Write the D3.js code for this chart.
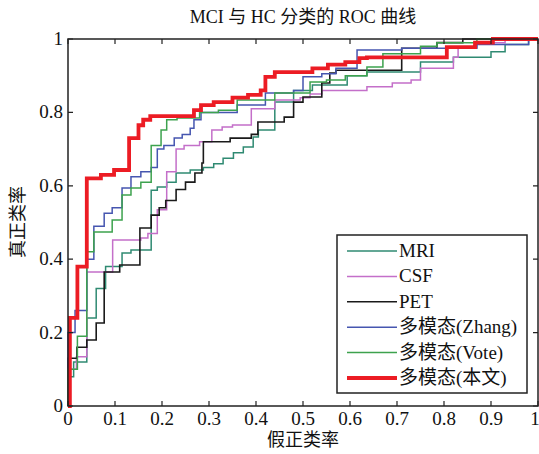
<!DOCTYPE html>
<html>
<head>
<meta charset="utf-8">
<script src="https://cdn.jsdelivr.net/npm/d3@7"></script>
</head>
<body style="margin:0; background:#fff">
<svg id="chart" width="539" height="454"></svg>
<script>
// ROC step curves, [fpr, tpr] vertices
const mri = [[0,0],[0,0.08],[0.012,0.08],[0.012,0.12],[0.04,0.12],[0.04,0.24],[0.06,0.24],[0.06,0.32],[0.08,0.32],[0.08,0.38],[0.115,0.38],[0.115,0.417],[0.134,0.417],[0.134,0.425],[0.177,0.425],[0.177,0.588],[0.19,0.588],[0.19,0.597],[0.21,0.597],[0.21,0.61],[0.23,0.61],[0.23,0.635],[0.26,0.635],[0.26,0.643],[0.288,0.643],[0.288,0.65],[0.31,0.65],[0.31,0.66],[0.33,0.66],[0.33,0.675],[0.352,0.675],[0.352,0.69],[0.373,0.69],[0.373,0.706],[0.394,0.706],[0.394,0.733],[0.405,0.733],[0.405,0.752],[0.44,0.752],[0.44,0.828],[0.48,0.828],[0.48,0.86],[0.52,0.86],[0.52,0.875],[0.594,0.875],[0.594,0.9],[0.636,0.9],[0.636,0.91],[0.75,0.91],[0.75,0.937],[0.82,0.937],[0.82,0.95],[0.9,0.95],[0.9,0.965],[0.93,0.965],[0.93,0.985],[0.98,0.985],[0.98,1],[1,1]];
const csf = [[0,0],[0,0.1],[0.018,0.1],[0.018,0.134],[0.04,0.134],[0.04,0.365],[0.095,0.365],[0.095,0.452],[0.155,0.452],[0.155,0.458],[0.17,0.458],[0.17,0.47],[0.19,0.47],[0.19,0.535],[0.21,0.535],[0.21,0.638],[0.23,0.638],[0.23,0.70],[0.247,0.70],[0.247,0.71],[0.28,0.71],[0.28,0.72],[0.306,0.72],[0.306,0.752],[0.328,0.752],[0.328,0.76],[0.35,0.76],[0.35,0.766],[0.39,0.766],[0.39,0.81],[0.44,0.81],[0.44,0.834],[0.494,0.834],[0.494,0.84],[0.515,0.84],[0.515,0.85],[0.54,0.85],[0.54,0.86],[0.636,0.86],[0.636,0.87],[0.69,0.87],[0.69,0.88],[0.73,0.88],[0.73,0.888],[0.75,0.888],[0.75,0.92],[0.82,0.92],[0.82,0.95],[0.83,0.95],[0.83,0.978],[0.87,0.978],[0.87,0.99],[0.93,0.99],[0.93,1],[1,1]];
const pet = [[0,0],[0,0.13],[0.019,0.13],[0.019,0.16],[0.04,0.16],[0.04,0.18],[0.06,0.18],[0.06,0.226],[0.077,0.226],[0.077,0.365],[0.11,0.365],[0.11,0.384],[0.153,0.384],[0.153,0.485],[0.177,0.485],[0.177,0.52],[0.194,0.52],[0.194,0.54],[0.208,0.54],[0.208,0.56],[0.23,0.56],[0.23,0.59],[0.25,0.59],[0.25,0.61],[0.27,0.61],[0.27,0.635],[0.285,0.635],[0.285,0.662],[0.288,0.662],[0.288,0.72],[0.345,0.72],[0.345,0.73],[0.39,0.73],[0.39,0.74],[0.404,0.74],[0.404,0.774],[0.46,0.774],[0.46,0.787],[0.48,0.787],[0.48,0.828],[0.5,0.828],[0.5,0.842],[0.54,0.842],[0.54,0.88],[0.557,0.88],[0.557,0.907],[0.57,0.907],[0.57,0.915],[0.71,0.915],[0.71,0.975],[0.785,0.975],[0.785,0.99],[0.84,0.99],[0.84,1],[1,1]];
const zhang = [[0,0],[0,0.2],[0.015,0.2],[0.015,0.26],[0.04,0.26],[0.04,0.4],[0.055,0.4],[0.055,0.49],[0.077,0.49],[0.077,0.525],[0.094,0.525],[0.094,0.54],[0.115,0.54],[0.115,0.594],[0.134,0.594],[0.134,0.625],[0.155,0.625],[0.155,0.638],[0.177,0.638],[0.177,0.65],[0.19,0.65],[0.19,0.70],[0.204,0.70],[0.204,0.71],[0.226,0.71],[0.226,0.73],[0.243,0.73],[0.243,0.74],[0.26,0.74],[0.26,0.757],[0.268,0.757],[0.268,0.78],[0.283,0.78],[0.283,0.8],[0.36,0.8],[0.36,0.82],[0.42,0.82],[0.42,0.853],[0.48,0.853],[0.48,0.86],[0.5,0.86],[0.5,0.897],[0.54,0.897],[0.54,0.905],[0.57,0.905],[0.57,0.92],[0.615,0.92],[0.615,0.97],[0.71,0.97],[0.71,0.975],[0.87,0.975],[0.87,0.985],[0.98,0.985],[0.98,1],[1,1]];
const vote = [[0,0],[0,0.1],[0.02,0.1],[0.02,0.19],[0.04,0.19],[0.04,0.42],[0.055,0.42],[0.055,0.474],[0.094,0.474],[0.094,0.507],[0.115,0.507],[0.115,0.575],[0.134,0.575],[0.134,0.594],[0.155,0.594],[0.155,0.61],[0.177,0.61],[0.177,0.71],[0.198,0.71],[0.198,0.752],[0.21,0.752],[0.21,0.78],[0.232,0.78],[0.232,0.785],[0.28,0.785],[0.28,0.8],[0.32,0.8],[0.32,0.806],[0.36,0.806],[0.36,0.834],[0.44,0.834],[0.44,0.853],[0.515,0.853],[0.515,0.883],[0.55,0.883],[0.55,0.888],[0.59,0.888],[0.59,0.9],[0.636,0.9],[0.636,0.924],[0.67,0.924],[0.67,0.96],[0.75,0.96],[0.75,0.98],[0.785,0.98],[0.785,0.99],[0.87,0.99],[0.87,1],[1,1]];
const ours = [[0,0],[0.004,0],[0.004,0.24],[0.02,0.24],[0.02,0.38],[0.04,0.38],[0.04,0.62],[0.07,0.62],[0.07,0.63],[0.098,0.63],[0.098,0.643],[0.13,0.643],[0.13,0.73],[0.15,0.73],[0.15,0.765],[0.16,0.765],[0.16,0.78],[0.175,0.78],[0.175,0.79],[0.268,0.79],[0.268,0.806],[0.283,0.806],[0.283,0.82],[0.31,0.82],[0.31,0.828],[0.35,0.828],[0.35,0.84],[0.383,0.84],[0.383,0.848],[0.41,0.848],[0.41,0.86],[0.42,0.86],[0.42,0.897],[0.44,0.897],[0.44,0.91],[0.52,0.91],[0.52,0.92],[0.553,0.92],[0.553,0.93],[0.59,0.93],[0.59,0.937],[0.62,0.937],[0.62,0.948],[0.636,0.948],[0.636,0.95],[0.806,0.95],[0.806,0.978],[0.866,0.978],[0.866,0.99],[0.904,0.99],[0.904,1],[1,1]];

const seriesNames = ['MRI', 'CSF', 'PET', '多模态(Zhang)', '多模态(Vote)', '多模态(本文)'];
const seriesData = [mri, csf, pet, zhang, vote, ours];
const xTicks = [0, 0.1, 0.2, 0.3, 0.4, 0.5, 0.6, 0.7, 0.8, 0.9, 1];
const yTicks = [0, 0.2, 0.4, 0.6, 0.8, 1];

const colors = ['#2f8a72', '#c46fc9', '#1a1a1a', '#4656b0', '#3da24e', '#ec1c24'];
const widths = [1.5, 1.5, 1.6, 1.5, 1.5, 3.8];

const svg = d3.select('#chart')
  .attr('font-family', '"Liberation Serif", "Noto Sans CJK SC", serif')
  .attr('fill', '#111');
const mLeft = 68, mRight = 538, mTop = 39, mBottom = 406;

const x = d3.scaleLinear().domain([0, 1]).range([mLeft, mRight]);
const y = d3.scaleLinear().domain([0, 1]).range([mBottom, mTop]);

const line = d3.line().x(d => x(d[0])).y(d => y(d[1]));

// curves
const plot = svg.append('g');
seriesData.forEach((s, i) => {
  plot.append('path')
    .datum(s)
    .attr('fill', 'none')
    .attr('stroke', colors[i])
    .attr('stroke-width', widths[i])
    .attr('stroke-linejoin', 'miter')
    .attr('d', line);
});

// box and inward ticks, matlab style
const axisColor = '#222';
svg.append('rect')
  .attr('x', mLeft).attr('y', mTop)
  .attr('width', mRight - mLeft).attr('height', mBottom - mTop)
  .attr('fill', 'none').attr('stroke', axisColor).attr('stroke-width', 1.5);

const tk = 5;
svg.append('g').selectAll('path.xt')
  .data(xTicks)
  .enter().append('path')
  .attr('stroke', axisColor).attr('stroke-width', 1.2)
  .attr('d', d => 'M' + x(d) + ',' + mBottom + 'v' + (-tk) + 'M' + x(d) + ',' + mTop + 'v' + tk);
svg.append('g').selectAll('path.yt')
  .data(yTicks)
  .enter().append('path')
  .attr('stroke', axisColor).attr('stroke-width', 1.2)
  .attr('d', d => 'M' + mLeft + ',' + y(d) + 'h' + tk + 'M' + mRight + ',' + y(d) + 'h' + (-tk));

svg.append('g').selectAll('text')
  .data(xTicks)
  .enter().append('text')
  .attr('x', d => Math.min(x(d), 535))
  .attr('y', 425)
  .attr('text-anchor', 'middle')
  .attr('font-size', 19)
  .text(d => d);

svg.append('g').selectAll('text')
  .data(yTicks)
  .enter().append('text')
  .attr('x', 63)
  .attr('y', d => y(d) + 6)
  .attr('text-anchor', 'end')
  .attr('font-size', 19)
  .text(d => d);

// titles
svg.append('text')
  .attr('x', 303).attr('y', 23)
  .attr('text-anchor', 'middle')
  .attr('font-size', 18)
  .text('MCI 与 HC 分类的 ROC 曲线');

svg.append('text')
  .attr('x', 303).attr('y', 446)
  .attr('text-anchor', 'middle')
  .attr('font-size', 18)
  .text('假正类率');

svg.append('text')
  .attr('transform', 'translate(24,222) rotate(-90)')
  .attr('text-anchor', 'middle')
  .attr('font-size', 18)
  .text('真正类率');

// legend
const lg = svg.append('g');
lg.append('rect')
  .attr('x', 337).attr('y', 235)
  .attr('width', 190).attr('height', 158)
  .attr('fill', '#fff').attr('stroke', axisColor).attr('stroke-width', 1.5);

seriesNames.forEach((name, i) => {
  const ry = 251 + i * 25.4;
  lg.append('line')
    .attr('x1', 347).attr('x2', 397)
    .attr('y1', ry).attr('y2', ry)
    .attr('stroke', colors[i])
    .attr('stroke-width', widths[i]);
  lg.append('text')
    .attr('x', 399).attr('y', ry + 6)
    .attr('font-size', 19)
    .text(name);
});
</script>
</body>
</html>
